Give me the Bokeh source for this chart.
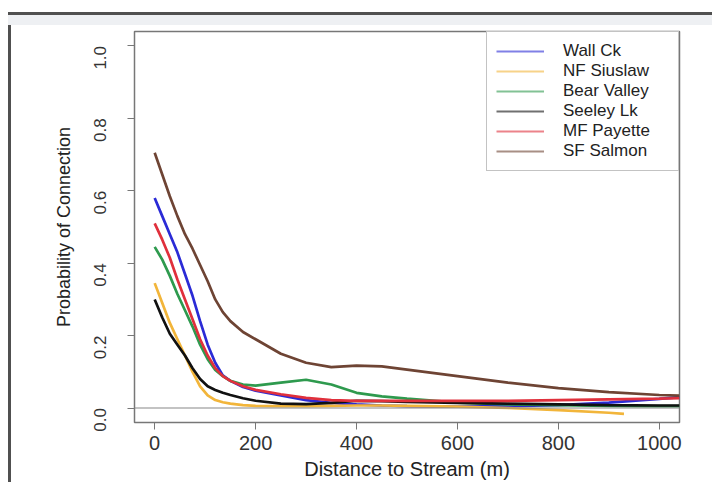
import math
from bokeh.plotting import figure
from bokeh.models import Range1d, Span, FixedTicker, Legend, LegendItem
from bokeh.embed import file_html
from bokeh.resources import INLINE

# ---- data ----
distance = [0, 15, 30, 45, 60, 75, 90, 105, 120, 135, 150, 175, 200, 250, 300,
            350, 400, 450, 500, 600, 700, 800, 900, 1000, 1040]

wall_ck = [0.58, 0.53, 0.48, 0.43, 0.37, 0.31, 0.24, 0.175, 0.125, 0.09, 0.075,
           0.058, 0.048, 0.035, 0.022, 0.014, 0.010, 0.007, 0.005, 0.004, 0.005,
           0.008, 0.015, 0.025, 0.030]
bear_valley = [0.445, 0.41, 0.365, 0.315, 0.27, 0.225, 0.175, 0.135, 0.105, 0.088,
               0.075, 0.065, 0.062, 0.070, 0.078, 0.065, 0.042, 0.032, 0.026,
               0.015, 0.010, 0.008, 0.006, 0.005, 0.005]
seeley_lk = [0.30, 0.25, 0.205, 0.175, 0.145, 0.11, 0.08, 0.06, 0.05, 0.042, 0.036,
             0.027, 0.020, 0.012, 0.011, 0.014, 0.020, 0.019, 0.017, 0.014, 0.012,
             0.010, 0.008, 0.007, 0.007]
mf_payette = [0.51, 0.465, 0.415, 0.355, 0.30, 0.245, 0.19, 0.145, 0.11, 0.088,
              0.075, 0.060, 0.050, 0.038, 0.028, 0.022, 0.020, 0.020, 0.020, 0.020,
              0.020, 0.022, 0.024, 0.026, 0.027]
sf_salmon = [0.705, 0.645, 0.585, 0.53, 0.48, 0.44, 0.395, 0.35, 0.30, 0.265, 0.24,
             0.21, 0.19, 0.15, 0.125, 0.113, 0.117, 0.115, 0.106, 0.088, 0.070,
             0.055, 0.044, 0.036, 0.034]

siuslaw_distance = [0, 15, 30, 45, 60, 75, 90, 105, 120, 135, 150, 175, 200, 250,
                    300, 350, 400, 450, 500, 600, 700, 800, 900, 930]
nf_siuslaw = [0.345, 0.29, 0.235, 0.19, 0.145, 0.10, 0.06, 0.035, 0.022, 0.016,
              0.012, 0.008, 0.006, 0.005, 0.005, 0.006, 0.007, 0.007, 0.006, 0.004,
              0.0, -0.006, -0.013, -0.016]

series_names = ["Wall Ck", "NF Siuslaw", "Bear Valley", "Seeley Lk", "MF Payette", "SF Salmon"]
series_x = [distance, siuslaw_distance, distance, distance, distance, distance]
series_y = [wall_ck, nf_siuslaw, bear_valley, seeley_lk, mf_payette, sf_salmon]
series_colors = ["#2b2bd6", "#f2b53a", "#2e9a4e", "#111111", "#e0303c", "#6e4434"]

x_ticks = [0, 200, 400, 600, 800, 1000]
y_ticks = [0.0, 0.2, 0.4, 0.6, 0.8, 1.0]
y_tick_labels = {0.0: "0.0", 0.2: "0.2", 0.4: "0.4", 0.6: "0.6", 0.8: "0.8", 1.0: "1.0"}

FONT = "Liberation Sans"

p = figure(width=712, height=482, output_backend="svg", toolbar_location=None,
           x_range=Range1d(-40, 1040), y_range=Range1d(-0.04, 1.04),
           min_border_left=134, min_border_right=33, min_border_top=31,
           min_border_bottom=58)
# screenshot-style frame: dark top/left edge with a pale band along the top
p.styles = {
    "background": (
        "linear-gradient(to right, white 0px, white 8px, transparent 8px), "
        "linear-gradient(to bottom, white 0px, white 12px, #505050 12px, #505050 15px, "
        "#eef0f3 15px, #eef0f3 25px, transparent 25px), "
        "linear-gradient(to right, white 0px, white 8px, #505050 8px, #505050 11px, "
        "white 11px)"
    )
}
p.background_fill_color = "white"
p.border_fill_alpha = 0.0
p.outline_line_color = "#777777"
p.outline_line_width = 1.5
p.xgrid.visible = False
p.ygrid.visible = False

for ax in (p.xaxis[0], p.yaxis[0]):
    ax.axis_line_color = None
    ax.major_tick_in = 0
    ax.major_tick_out = 7
    ax.major_tick_line_color = "#777777"
    ax.minor_tick_line_color = None
    ax.major_label_text_font = FONT
    ax.major_label_text_color = "#333333"
    ax.axis_label_text_font = FONT
    ax.axis_label_text_font_style = "normal"
    ax.axis_label_text_color = "#222222"

p.xaxis.ticker = FixedTicker(ticks=x_ticks)
p.xaxis.major_label_text_font_size = "20px"
p.xaxis.major_label_standoff = 6
p.xaxis.axis_label = "Distance to Stream (m)"
p.xaxis.axis_label_text_font_size = "20px"
p.xaxis.axis_label_standoff = 5

p.yaxis.ticker = FixedTicker(ticks=y_ticks)
p.yaxis.major_label_overrides = y_tick_labels
p.yaxis.major_label_orientation = math.pi / 2
p.yaxis.major_label_text_font_size = "17px"
p.yaxis.major_label_standoff = 27
p.yaxis.axis_label = "Probability of Connection"
p.yaxis.axis_label_text_font_size = "18px"
p.yaxis.axis_label_standoff = 12

p.add_layout(Span(location=0, dimension="width", line_color="#888888", line_width=1.2))

for xs, ys, c in zip(series_x, series_y, series_colors):
    p.line(xs, ys, line_color=c, line_width=2.7)

nan = float("nan")
items = []
for name, c in zip(series_names, series_colors):
    r = p.line([nan], [nan], line_color=c, line_width=2, line_alpha=0.6)
    items.append(LegendItem(label=name, renderers=[r]))

legend = Legend(items=items, location="top_right", margin=0, padding=9,
                spacing=0, label_height=20, glyph_height=20, glyph_width=48,
                label_standoff=19, label_width=106,
                label_text_font=FONT, label_text_font_size="17px",
                label_text_color="#222222",
                border_line_color="#888888", border_line_width=1.5,
                background_fill_color="white", background_fill_alpha=1.0)
p.add_layout(legend)

open("out.html", "w").write(file_html(p, INLINE))
